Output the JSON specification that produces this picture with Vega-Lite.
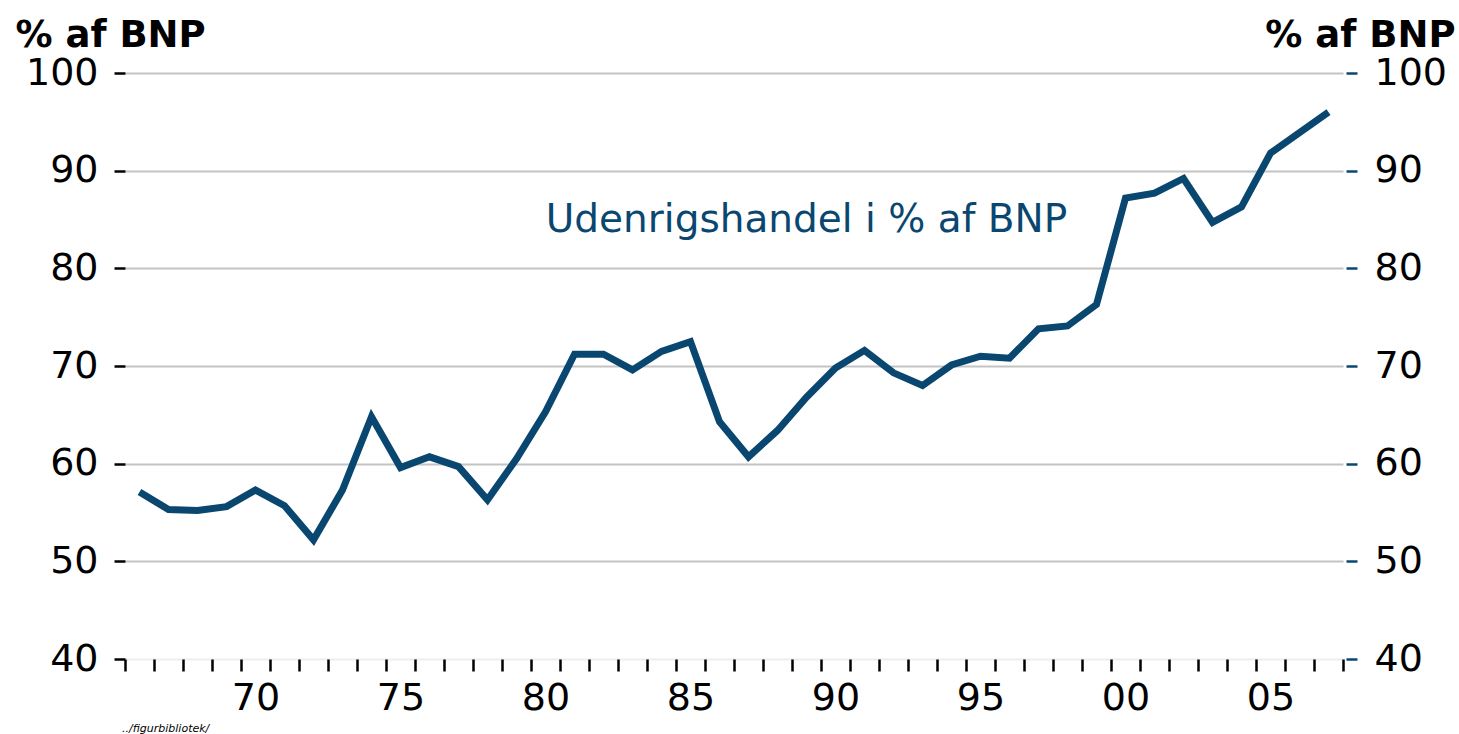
{
  "$schema": "https://vega.github.io/schema/vega-lite/v6.json",
  "width": 1218,
  "height": 586,
  "autosize": {"type": "none"},
  "padding": {"left": 125, "top": 73, "right": 116, "bottom": 75},
  "background": "white",
  "config": {"view": {"stroke": null}, "font": "DejaVu Sans"},
  "title": {"text": "../figurbibliotek/", "orient": "bottom", "anchor": "start", "frame": "group", "fontSize": 11, "fontStyle": "italic", "fontWeight": "normal", "color": "#000000", "offset": 6, "dx": -3, "font": "DejaVu Sans"},
  "datasets": {
    "trade": [
      {"year": 1966, "value": 57.1}, {"year": 1967, "value": 55.3}, {"year": 1968, "value": 55.2},
      {"year": 1969, "value": 55.6}, {"year": 1970, "value": 57.3}, {"year": 1971, "value": 55.7},
      {"year": 1972, "value": 52.2}, {"year": 1973, "value": 57.3}, {"year": 1974, "value": 64.8},
      {"year": 1975, "value": 59.6}, {"year": 1976, "value": 60.7}, {"year": 1977, "value": 59.7},
      {"year": 1978, "value": 56.3}, {"year": 1979, "value": 60.5}, {"year": 1980, "value": 65.3},
      {"year": 1981, "value": 71.2}, {"year": 1982, "value": 71.2}, {"year": 1983, "value": 69.6},
      {"year": 1984, "value": 71.5}, {"year": 1985, "value": 72.5}, {"year": 1986, "value": 64.3},
      {"year": 1987, "value": 60.7}, {"year": 1988, "value": 63.4}, {"year": 1989, "value": 66.8},
      {"year": 1990, "value": 69.8}, {"year": 1991, "value": 71.6}, {"year": 1992, "value": 69.3},
      {"year": 1993, "value": 68.0}, {"year": 1994, "value": 70.1}, {"year": 1995, "value": 71.0},
      {"year": 1996, "value": 70.8}, {"year": 1997, "value": 73.8}, {"year": 1998, "value": 74.1},
      {"year": 1999, "value": 76.3}, {"year": 2000, "value": 87.2}, {"year": 2001, "value": 87.7},
      {"year": 2002, "value": 89.2}, {"year": 2003, "value": 84.7}, {"year": 2004, "value": 86.3},
      {"year": 2005, "value": 91.8}, {"year": 2006, "value": 93.9}, {"year": 2007, "value": 96.0}
    ],
    "label": [
      {"year": 1989, "value": 85, "text": "Udenrigshandel i % af BNP"}
    ]
  },
  "layer": [
    {
      "data": {"name": "trade"},
      "mark": {"type": "line", "color": "#0a4770", "strokeWidth": 7, "strokeJoin": "miter", "strokeCap": "butt"},
      "encoding": {
        "x": {
          "field": "year", "type": "ordinal",
          "scale": {"type": "band", "paddingInner": 0, "paddingOuter": 0},
          "axis": {
            "title": null, "domain": false, "grid": false,
            "tickBand": "extent", "ticks": true, "tickColor": "#000000", "tickWidth": 2.5, "tickSize": 12,
            "labelExpr": "(+datum.value) % 5 == 0 ? slice(datum.value + '', 2) : ''",
            "labelFontSize": 38, "labelColor": "#000000", "labelPadding": 8, "labelAngle": 0,
            "labelFont": "DejaVu Sans", "labelOverlap": false
          }
        },
        "y": {
          "field": "value", "type": "quantitative",
          "scale": {"domain": [40, 100], "nice": false, "zero": false},
          "axis": {
            "orient": "left", "values": [40, 50, 60, 70, 80, 90, 100],
            "domain": false, "grid": true,
            "gridColor": {"condition": {"test": "datum.value == 40", "value": "#eeeeee"}, "value": "#c4c4c4"},
            "gridWidth": 2,
            "tickColor": "#000000", "tickWidth": 2.5, "tickSize": 11,
            "labelFontSize": 38, "labelColor": "#000000", "labelPadding": 16, "labelFont": "DejaVu Sans",
            "title": "% af BNP", "titleAngle": 0, "titleX": -110, "titleY": -27, "titleAlign": "left",
            "titleBaseline": "alphabetic", "titleFontSize": 37, "titleFontWeight": "bold", "titleColor": "#000000",
            "titleFont": "DejaVu Sans"
          }
        }
      }
    },
    {
      "data": {"name": "label"},
      "mark": {"type": "text", "color": "#0a4770", "fontSize": 39, "font": "DejaVu Sans", "fontWeight": "normal", "align": "center", "baseline": "middle"},
      "encoding": {
        "x": {"field": "year", "type": "ordinal"},
        "y": {
          "field": "value", "type": "quantitative",
          "scale": {"domain": [40, 100], "nice": false, "zero": false},
          "axis": {
            "orient": "right", "values": [40, 50, 60, 70, 80, 90, 100],
            "domain": false, "grid": false, "offset": 3,
            "tickColor": "#0a4770", "tickWidth": 2.5, "tickSize": 11,
            "labelFontSize": 38, "labelColor": "#000000", "labelPadding": 17, "labelFont": "DejaVu Sans",
            "title": "% af BNP", "titleAngle": 0, "titleX": 109, "titleY": -27, "titleAlign": "right",
            "titleBaseline": "alphabetic", "titleFontSize": 37, "titleFontWeight": "bold", "titleColor": "#000000",
            "titleFont": "DejaVu Sans"
          }
        },
        "text": {"field": "text"}
      }
    }
  ],
  "resolve": {"scale": {"y": "independent"}, "axis": {"y": "independent"}}
}
